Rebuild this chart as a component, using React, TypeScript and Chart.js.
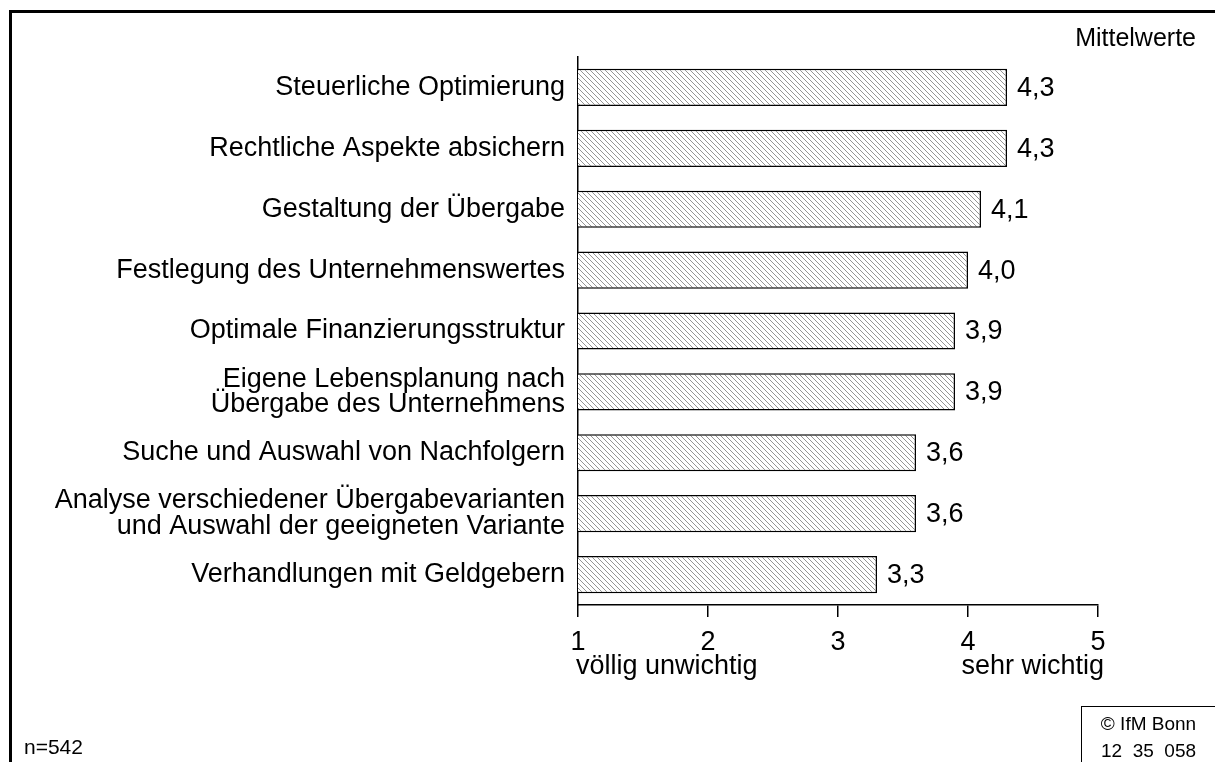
import React, { useEffect, useRef } from 'react';
import { Chart, registerables } from 'chart.js';

Chart.register(...registerables);

const categories: (string | string[])[] = [
  'Steuerliche Optimierung',
  'Rechtliche Aspekte absichern',
  'Gestaltung der Übergabe',
  'Festlegung des Unternehmenswertes',
  'Optimale Finanzierungsstruktur',
  ['Eigene Lebensplanung nach', 'Übergabe des Unternehmens'],
  'Suche und Auswahl von Nachfolgern',
  ['Analyse verschiedener Übergabevarianten', 'und Auswahl der geeigneten Variante'],
  'Verhandlungen mit Geldgebern',
];
const values = [4.3, 4.3, 4.1, 4.0, 3.9, 3.9, 3.6, 3.6, 3.3];
const xTickValues = [1, 2, 3, 4, 5];
const axisEndLabels = ['völlig unwichtig', 'sehr wichtig'];
const unitLabel = 'Mittelwerte';
const sampleLabel = 'n=542';
const sourceLines = ['© IfM Bonn', '12  35  058'];

const FONT = '"Liberation Sans", Arial, Helvetica, sans-serif';
const FS = 27;

function makeHatch(): CanvasPattern | string {
  const s = 5;
  const c = document.createElement('canvas');
  c.width = s;
  c.height = s;
  const g = c.getContext('2d');
  if (!g) return '#ccc';
  g.fillStyle = '#ffffff';
  g.fillRect(0, 0, s, s);
  g.strokeStyle = '#959595';
  g.lineWidth = 1;
  g.beginPath();
  g.moveTo(0, 0);
  g.lineTo(s, s);
  g.moveTo(-1, s - 1);
  g.lineTo(1, s + 1);
  g.moveTo(s - 1, -1);
  g.lineTo(s + 1, 1);
  g.stroke();
  return g.createPattern(c, 'repeat') || '#ccc';
}

export default function App() {
  const ref = useRef<HTMLCanvasElement | null>(null);

  useEffect(() => {
    const canvas = ref.current;
    if (!canvas) return;
    const hatch = makeHatch();

    const valueLabels = {
      id: 'valueLabels',
      afterDatasetsDraw(chart: any) {
        const ctx = chart.ctx;
        const meta = chart.getDatasetMeta(0);
        ctx.save();
        ctx.font = `${FS}px ${FONT}`;
        ctx.fillStyle = '#000';
        ctx.textAlign = 'left';
        ctx.textBaseline = 'middle';
        meta.data.forEach((el: any, i: number) => {
          ctx.fillText(values[i].toFixed(1).replace('.', ','), el.x + 10, el.y + 1);
        });
        ctx.restore();
      },
      afterDraw(chart: any) {
        const ctx = chart.ctx;
        const xs = chart.scales.x;
        ctx.save();
        ctx.font = `${FS}px ${FONT}`;
        ctx.fillStyle = '#000';
        ctx.textBaseline = 'middle';
        ctx.textAlign = 'left';
        ctx.fillText(axisEndLabels[0], xs.getPixelForValue(xTickValues[0]) - 2, 667);
        ctx.textAlign = 'right';
        ctx.fillText(axisEndLabels[1], xs.getPixelForValue(xTickValues[xTickValues.length - 1]) + 6, 667);
        ctx.restore();
      },
    };

    const chart = new Chart(canvas, {
      type: 'bar',
      data: {
        labels: categories,
        datasets: [
          {
            data: values,
            backgroundColor: hatch as any,
            borderColor: '#000',
            borderWidth: 1.5,
            borderSkipped: false,
            categoryPercentage: 1,
            barPercentage: 0.61,
          },
        ],
      },
      options: {
        indexAxis: 'y',
        animation: false,
        responsive: false,
        layout: { padding: { top: 57, right: 117, bottom: 0, left: 0 } },
        plugins: {
          legend: { display: false },
          tooltip: { enabled: false },
          title: { display: false },
        },
        scales: {
          x: {
            type: 'linear',
            min: 1,
            max: 5,
            afterFit: (s: any) => {
              s.height = 157;
            },
            afterBuildTicks: (s: any) => {
              s.ticks = xTickValues.map((v) => ({ value: v }));
            },
            ticks: {
              color: '#000',
              font: { family: FONT, size: FS, lineHeight: 1.2 },
              padding: 9,
              maxRotation: 0,
              autoSkip: false,
            },
            grid: {
              display: true,
              drawOnChartArea: false,
              drawTicks: true,
              tickLength: 12,
              color: '#000',
              lineWidth: 1.5,
            },
            border: { display: true, color: '#000', width: 1.5 },
          },
          y: {
            afterFit: (s: any) => {
              s.width = 578;
            },
            ticks: {
              color: '#000',
              font: { family: FONT, size: FS, lineHeight: 0.95 },
              padding: 13,
              autoSkip: false,
            },
            grid: { display: false, drawTicks: false },
            border: { display: true, color: '#000', width: 1.5 },
          },
        },
      },
      plugins: [valueLabels],
    });

    return () => chart.destroy();
  }, []);

  return (
    <div
      style={{
        position: 'fixed',
        left: 0,
        top: 0,
        width: 1215,
        height: 762,
        overflow: 'hidden',
        background: '#fff',
        fontFamily: FONT,
        color: '#000',
      }}
    >
      <div
        style={{
          position: 'absolute',
          left: 9,
          top: 10,
          width: 1400,
          height: 900,
          borderTop: '3px solid #000',
          borderLeft: '3px solid #000',
        }}
      />
      <canvas ref={ref} width={1215} height={762} style={{ position: 'absolute', left: 0, top: 0 }} />
      <div style={{ position: 'absolute', right: 19, top: 22, fontSize: 25, lineHeight: '30px' }}>{unitLabel}</div>
      <div style={{ position: 'absolute', left: 24, top: 734, fontSize: 21, lineHeight: '26px' }}>{sampleLabel}</div>
      <div
        style={{
          position: 'absolute',
          left: 1081,
          top: 706,
          width: 160,
          height: 100,
          border: '1px solid #000',
          boxSizing: 'border-box',
        }}
      />
      <div
        style={{
          position: 'absolute',
          left: 1082,
          top: 710,
          width: 133,
          textAlign: 'center',
          fontSize: 19,
          lineHeight: '27px',
        }}
      >
        <div>{sourceLines[0]}</div>
        <div style={{ whiteSpace: 'pre' }}>{sourceLines[1]}</div>
      </div>
    </div>
  );
}
